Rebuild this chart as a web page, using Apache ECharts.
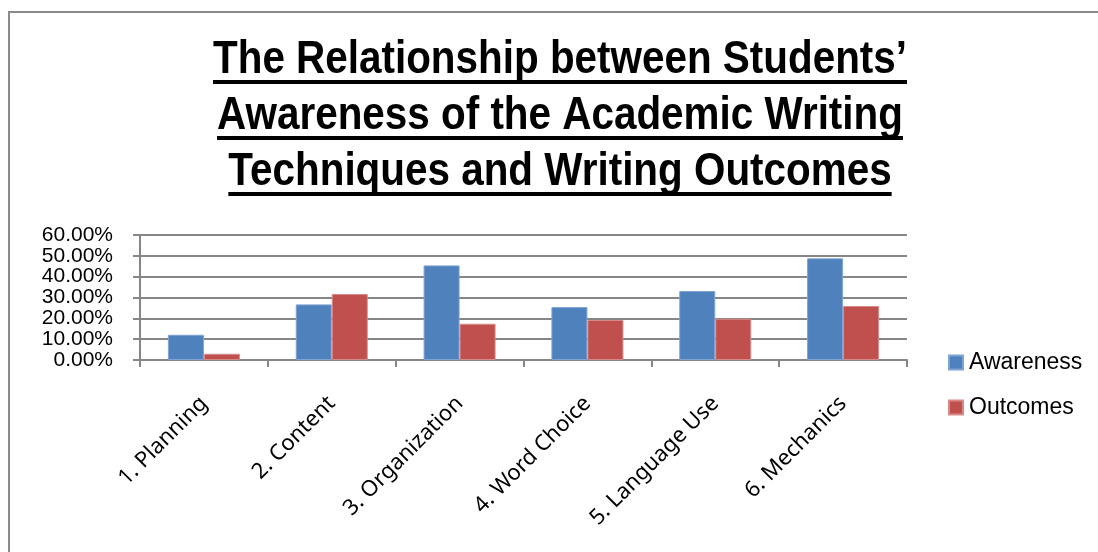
<!DOCTYPE html>
<html>
<head>
<meta charset="utf-8">
<script src="https://cdn.jsdelivr.net/npm/echarts@6/dist/echarts.min.js"></script>
<style>html,body{margin:0;padding:0;background:#fff;}#c{width:1098px;height:552px;}</style>
</head>
<body>
<div id="c"></div>
<script>
const titleLines = ["The Relationship between Students\u2019", "Awareness of the Academic Writing", "Techniques and Writing Outcomes"];
const categories = ["1. Planning", "2. Content", "3. Organization", "4. Word Choice", "5. Language Use", "6. Mechanics"];
const awareness = [0.121, 0.267, 0.454, 0.254, 0.331, 0.488];
const outcomes = [0.030, 0.317, 0.174, 0.192, 0.198, 0.259];
const seriesNames = ["Awareness", "Outcomes"];

const chart = echarts.init(document.getElementById('c'), null, {renderer: 'canvas'});

const titleFamily = '"Liberation Sans", Arial, sans-serif';
const fs = 46;
const cv = document.createElement('canvas').getContext('2d');
function measure(txt) { cv.font = 'bold ' + fs + 'px ' + titleFamily; return cv.measureText(txt).width; }
const sx = 694 / measure(titleLines[0]);
const cx = 560;
const baselines = [75, 131, 187];
const graphics = [];
titleLines.forEach((t, i) => {
  const w = measure(t) * sx;
  graphics.push({
    type: 'text', x: cx, y: baselines[i] + 8.7, scaleX: sx, originX: 0, originY: 0,
    style: {text: t, font: 'bold ' + fs + 'px ' + titleFamily, fill: '#000', align: 'center', verticalAlign: 'bottom'}
  });
  graphics.push({
    type: 'rect', shape: {x: cx - w / 2, y: baselines[i] + 5, width: w, height: 4},
    style: {fill: '#000'}
  });
});
graphics.push({
  type: 'rect', shape: {x: 9, y: 12, width: 1100, height: 560},
  style: {fill: 'none', stroke: '#8a8a8a', lineWidth: 2}, silent: true
});

chart.setOption({
  animation: false,
  backgroundColor: '#fff',
  graphic: graphics,
  grid: {left: 140, right: 191, top: 235, bottom: 192, containLabel: false},
  legend: {
    orient: 'vertical', left: 943, top: 346, itemWidth: 14, itemHeight: 14, itemGap: 22,
    icon: 'rect',
    textStyle: {fontFamily: 'Liberation Sans', fontSize: 23, color: '#000', padding: [0, 0, 0, 1]},
    data: seriesNames
  },
  xAxis: {
    type: 'category', data: categories,
    axisLine: {lineStyle: {color: '#868686', width: 2}},
    axisTick: {show: true, length: 7, lineStyle: {color: '#868686', width: 2}},
    axisLabel: {rotate: 45, margin: 40, fontFamily: 'Noto Sans', fontSize: 22, color: '#000', interval: 0}
  },
  yAxis: {
    type: 'value', min: 0, max: 0.6, interval: 0.1,
    axisLine: {show: true, lineStyle: {color: '#868686', width: 2}},
    axisTick: {show: true, length: 7, lineStyle: {color: '#868686', width: 2}},
    splitLine: {lineStyle: {color: '#868686', width: 2}},
    axisLabel: {
      formatter: v => (v * 100).toFixed(2) + '%', margin: 27,
      showMinLabel: true, showMaxLabel: true, hideOverlap: false,
      fontFamily: 'Liberation Sans', fontSize: 21, color: '#000'
    }
  },
  series: [
    {name: seriesNames[0], type: 'bar', data: awareness, barWidth: 36, barGap: '0%',
     itemStyle: {color: '#4F81BD', borderColor: '#7FA3D3', borderWidth: 1}},
    {name: seriesNames[1], type: 'bar', data: outcomes, barWidth: 36, barGap: '0%',
     itemStyle: {color: '#C0504D', borderColor: '#D88A88', borderWidth: 1}}
  ]
});
</script>
</body>
</html>
